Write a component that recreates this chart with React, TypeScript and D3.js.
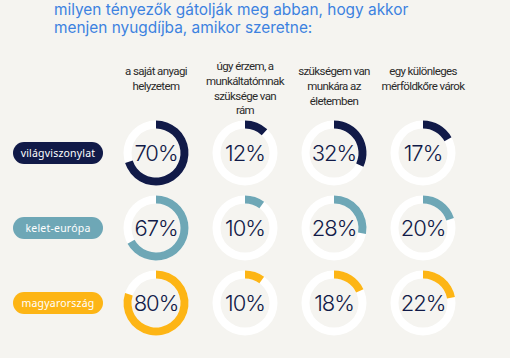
import React from "react";
import * as d3 from "d3";

const titleLines = ["milyen tényezők gátolják meg abban, hogy akkor", "menjen nyugdíjba, amikor szeretne:"];
const categories = [
  ["a saját anyagi", "helyzetem"],
  ["úgy érzem, a", "munkáltatómnak", "szüksége van", "rám"],
  ["szükségem van", "munkára az", "életemben"],
  ["egy különleges", "mérföldkőre várok"],
];
const headerTop = [71, 66, 71, 71];
const regions = ["világviszonylat", "kelet-európa", "magyarország"];
const regionColors = ["#111a48", "#6ea7b6", "#fdb515"];
const values = [
  [70, 12, 32, 17],
  [67, 10, 28, 20],
  [80, 10, 18, 22],
];

const W = 510, H = 358;

export default function App() {
  const x = d3.scalePoint<number>().domain([0, 1, 2, 3]).range([156, 423]);
  const y = d3.scalePoint<number>().domain([0, 1, 2]).range([153, 303]);
  const ang = d3.scaleLinear().domain([0, 100]).range([0, 2 * Math.PI]);
  const rOut = 32.5, rIn = 24.5;
  const bg = d3.arc()({ innerRadius: rIn, outerRadius: rOut, startAngle: 0, endAngle: 2 * Math.PI } as any) as string;
  return (
    <svg width={W} height={H} style={{ position: "absolute", left: 0, top: 0, background: "#f5f4f0" }}>
      <rect width={W} height={H} fill="#f5f4f0" />
      {titleLines.map((t, i) => (
        <text key={i} x={54} y={15 + i * 18} fontFamily="Inter, 'Noto Sans', sans-serif" fontSize={15.4} fill="#3c82e0">{t}</text>
      ))}
      {categories.map((lines, c) => (
        <text key={c} textAnchor="middle" fontFamily="Roboto, 'Noto Sans', sans-serif" fontSize={11.5} fill="#2a2a2a" letterSpacing={-0.6}>
          {lines.map((l, j) => (
            <tspan key={j} x={x(c)} y={headerTop[c] + 4 + j * 14.8}>{l}</tspan>
          ))}
        </text>
      ))}
      {regions.map((r, ri) => (
        <g key={r} transform={`translate(0,${y(ri)})`}>
          <rect x={13} y={-11} width={90} height={22} rx={11} fill={regionColors[ri]} />
          <text x={58} y={4} textAnchor="middle" fontFamily="'Noto Sans', sans-serif" fontSize={10.5} fill="#ffffff" letterSpacing={0.2}>{r}</text>
        </g>
      ))}
      {values.map((row, ri) =>
        row.map((v, c) => {
          const arcPath = d3.arc()({ innerRadius: rIn, outerRadius: rOut, startAngle: 0, endAngle: ang(v) } as any) as string;
          return (
            <g key={`${ri}-${c}`} transform={`translate(${x(c)},${y(ri)})`}>
              <path d={bg} fill="#ffffff" />
              <path d={arcPath} fill={regionColors[ri]} />
              <text y={8} textAnchor="middle" fontFamily="Inter, 'Noto Sans', sans-serif" fontWeight={300} fontSize={22} fill="#111a48" letterSpacing={-1}>{v}%</text>
            </g>
          );
        })
      )}
    </svg>
  );
}
